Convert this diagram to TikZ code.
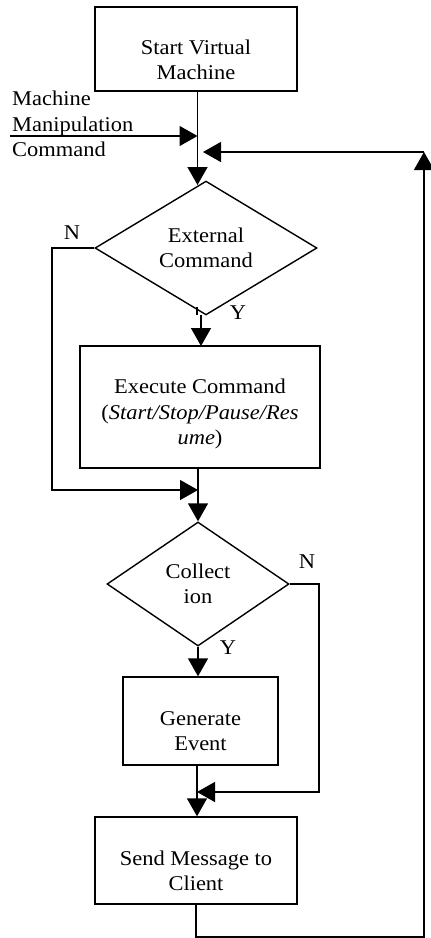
\documentclass[tikz,border=0pt]{standalone}
\usepackage{fontspec}
\setmainfont[FakeStretch=1.07]{Liberation Serif}
\usetikzlibrary{shapes.geometric,arrows.meta}
\begin{document}
\begin{tikzpicture}[x=1pt,y=-1pt,
  every node/.style={font=\fontsize{21}{25.5}\selectfont},
  box/.style={draw,line width=1.4pt,inner sep=0pt},
  txt/.style={align=center,inner sep=0pt},
  dia/.style={draw,diamond,line width=1.4pt,align=center,inner sep=0pt},
  ln/.style={line width=1.4pt},
  arr/.style={line width=1.4pt,-{Triangle[length=18pt,width=20pt]}},
  lbl/.style={inner sep=0pt}]
\useasboundingbox (0,0) rectangle (431,938);
\node[box,minimum width=202pt,minimum height=84pt] (start) at (196,49) {};
\node[txt] (startT) at (196,60) {Start Virtual\\Machine};
\node[dia,minimum width=222pt,minimum height=126pt] (d1) at (206,248) {External\\Command};
\node[box,minimum width=240pt,minimum height=122pt] (exec) at (200,407) {};
\node[txt] (execT) at (200,414) {Execute Command\\(\textit{Start/Stop/Pause/Res}\\\textit{ume})};
\node[dia,minimum width=182pt,minimum height=124pt] (d2) at (198,584) {Collect\\ion};
\node[box,minimum width=155pt,minimum height=88pt] (gen) at (200.5,721) {};
\node[txt] (genT) at (200.5,731) {Generate\\Event};
\node[box,minimum width=202pt,minimum height=87pt] (send) at (196,860.5) {};
\node[txt] (sendT) at (196,871) {Send Message to\\Client};
\node[lbl,align=left,anchor=west] (mmc) at (12,124) {Machine\\Manipulation\\Command};
\node[lbl] (n1) at (72,233) {N};
\node[lbl] (y1) at (238,313) {Y};
\node[lbl] (n2) at (307,562) {N};
\node[lbl] (y2) at (228,648) {Y};
\coordinate (mmin) at (10,136);
\coordinate (j1) at (197.5,136);
\coordinate (top1) at (197.5,185);
\coordinate (fb) at (424,152);
\coordinate (fbend) at (203,152);
\coordinate (j2) at (198,490);
\coordinate (j3) at (197,792);
\draw[arr] (start.south -| top1) -- (top1);
\draw[arr] (mmin) -- (j1);
\draw[arr] (send.south) -- (196,937) -| (fb);
\draw[arr] (fb) -- (fbend);
\draw[ln] (197,307) -- (197,315);
\draw[arr] (201,315) -- (201,346);
\draw[arr] (d1.west) -- (52,248) |- (j2);
\draw[arr] (exec.south -| j2) -- (d2.north);
\draw[arr] (d2.east) -- (319,584) |- (j3);
\draw[arr] (d2.south) -- (gen.north -| d2.south);
\draw[arr] (gen.south -| j3) -- (send.north -| j3);
\end{tikzpicture}
\end{document}
